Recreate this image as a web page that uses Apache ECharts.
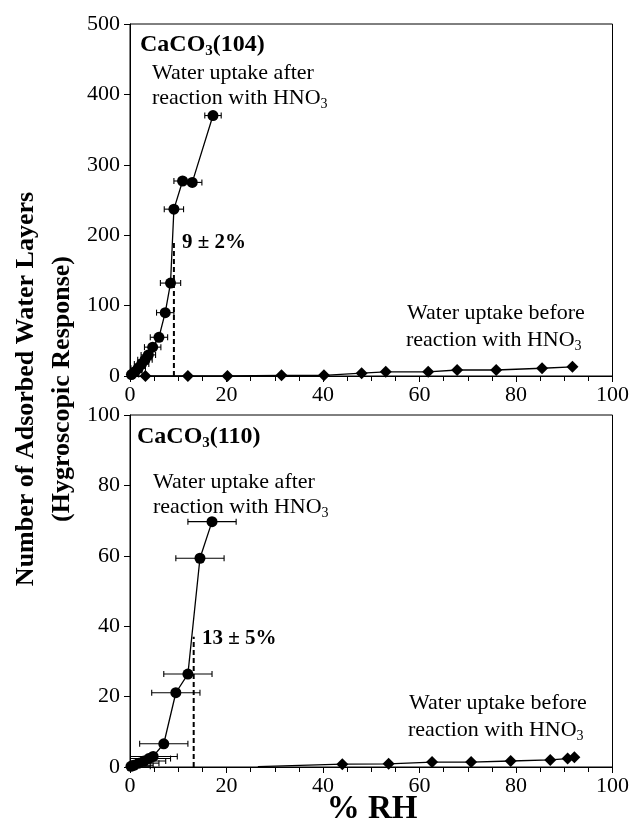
<!DOCTYPE html>
<html>
<head>
<meta charset="utf-8">
<script src="https://cdn.jsdelivr.net/npm/echarts@6/dist/echarts.min.js"></script>
<style>
  html, body { margin: 0; padding: 0; background: #fff; }
  #chart { width: 632px; height: 827px; }
</style>
</head>
<body>
<div id="chart"></div>
<script>
// CaCO3(104): after reaction with HNO3 (circles, x error bars)
const after104X = [0.3, 1.0, 1.7, 2.4, 3.1, 3.8, 4.7, 6.0, 7.3, 8.4, 9.1, 10.9, 12.9, 17.2]
const after104Y = [2, 6, 11, 17, 23, 30, 41, 55, 90, 132, 237, 277, 275, 370]
const after104Err = [1.5, 1.5, 1.5, 1.5, 1.5, 1.5, 1.7, 1.8, 1.8, 2.1, 2.0, 1.8, 2.0, 1.7]
// CaCO3(104): before reaction (diamonds)
const before104X = [3.2, 12.0, 20.2, 31.4, 40.2, 48.0, 53.0, 61.8, 67.8, 75.9, 85.4, 91.7]
const before104Y = [0, 0, 0, 1, 1, 4, 6, 6, 8.5, 8.5, 11, 13]
// DRH marker 9 +/- 2 %
const drh104 = [9.1, 190]

// CaCO3(110)
const after110X = [0.2, 0.8, 1.8, 2.9, 3.9, 4.8, 7.0, 9.5, 12.0, 14.5, 17.0]
const after110Y = [0.2, 0.5, 1.1, 1.7, 2.4, 3.0, 6.6, 21.1, 26.4, 59.3, 69.7]
const after110Err = [4.0, 4.0, 4.2, 4.5, 4.5, 5.0, 5.0, 5.0, 5.0, 5.0, 5.0]
const before110X = [26.5, 44.0, 53.6, 62.6, 70.7, 78.9, 87.1, 90.7, 92.1]
const before110Y = [0.1, 0.8, 0.9, 1.4, 1.4, 1.7, 2.0, 2.4, 2.8]
// DRH marker 13 +/- 5 %
const drh110 = [13.2, 37]

const xTicks = [0, 20, 40, 60, 80, 100]
const yTicks104 = [0, 100, 200, 300, 400, 500]
const yTicks110 = [0, 20, 40, 60, 80, 100]

const FONT = '"Liberation Serif", "Times New Roman", serif'

const zip = (xs, ys) => xs.map((x, i) => [x, ys[i]])
const zip3 = (xs, ys, es) => xs.map((x, i) => [x, ys[i], es[i]])

function errRender (params, api) {
  const x = api.value(0)
  const y = api.value(1)
  const e = api.value(2)
  const lo = Math.max(0, x - e)
  const p1 = api.coord([lo, y])
  const p2 = api.coord([x + e, y])
  const h = 3
  const st = { stroke: '#000', lineWidth: 1.1 }
  const kids = [
    { type: 'line', shape: { x1: p1[0], y1: p1[1], x2: p2[0], y2: p2[1] }, style: st },
    { type: 'line', shape: { x1: p2[0], y1: p2[1] - h, x2: p2[0], y2: p2[1] + h }, style: st }
  ]
  if (x - e >= 0) {
    kids.push({ type: 'line', shape: { x1: p1[0], y1: p1[1] - h, x2: p1[0], y2: p1[1] + h }, style: st })
  }
  return { type: 'group', children: kids }
}

function xAxisCfg (idx) {
  return {
    gridIndex: idx,
    type: 'value',
    min: xTicks[0],
    max: xTicks[xTicks.length - 1],
    interval: 20,
    axisLine: { onZero: false, lineStyle: { color: '#000', width: 1 } },
    axisTick: { length: 6, lineStyle: { color: '#000' } },
    minorTick: { show: true, splitNumber: 4, length: 5, lineStyle: { color: '#000' } },
    splitLine: { show: false },
    axisLabel: { color: '#000', fontFamily: FONT, fontSize: 22, margin: 8 }
  }
}

function yAxisCfg (idx, ticks) {
  return {
    gridIndex: idx,
    type: 'value',
    min: ticks[0],
    max: ticks[ticks.length - 1],
    interval: ticks[1] - ticks[0],
    axisLine: { show: true, lineStyle: { color: '#000', width: 1 } },
    axisTick: { show: true, length: 6, lineStyle: { color: '#000' } },
    splitLine: { show: false },
    axisLabel: { color: '#000', fontFamily: FONT, fontSize: 22, margin: 10 }
  }
}

function dataSeries (idx, xs, ys, symbol, size) {
  return {
    type: 'line',
    xAxisIndex: idx,
    yAxisIndex: idx,
    data: zip(xs, ys),
    symbol: symbol,
    symbolSize: size,
    showSymbol: true,
    itemStyle: { color: '#000' },
    lineStyle: { color: '#000', width: 1.3 },
    animation: false,
    z: 3
  }
}

function label (text, x, y, size, bold, rot) {
  return {
    type: 'text',
    x: x,
    y: y,
    rotation: rot || 0,
    style: {
      text: text,
      font: (bold ? 'bold ' : '') + size + 'px ' + FONT,
      fill: '#000',
      textAlign: rot ? 'center' : 'left',
      textVerticalAlign: 'middle',
      rich: {
        s: { fontSize: Math.round(size * 0.62), fontFamily: FONT, fontWeight: bold ? 'bold' : 'normal', padding: [Math.round(size * 0.55), 0, 0, 0] },
        n: { fontSize: size, fontFamily: FONT, fontWeight: bold ? 'bold' : 'normal' }
      }
    },
    z: 10
  }
}

const chart = echarts.init(document.getElementById('chart'))
chart.setOption({
  animation: false,
  backgroundColor: '#fff',
  grid: [
    { left: 130, right: 19, top: 24, height: 352, show: true, borderColor: '#000', borderWidth: 1 },
    { left: 130, right: 19, top: 415, height: 352, show: true, borderColor: '#000', borderWidth: 1 }
  ],
  xAxis: [xAxisCfg(0), xAxisCfg(1)],
  yAxis: [yAxisCfg(0, yTicks104), yAxisCfg(1, yTicks110)],
  series: [
    {
      type: 'custom',
      xAxisIndex: 0,
      yAxisIndex: 0,
      renderItem: errRender,
      data: zip3(after104X, after104Y, after104Err),
      encode: { x: 0, y: 1 },
      z: 2
    },
    dataSeries(0, after104X, after104Y, 'circle', 11),
    dataSeries(0, before104X, before104Y, 'diamond', 12),
    {
      type: 'line',
      xAxisIndex: 0,
      yAxisIndex: 0,
      data: [[drh104[0], 0], [drh104[0], drh104[1]]],
      symbol: 'none',
      lineStyle: { color: '#000', width: 2, type: [5, 3] },
      z: 1
    },
    {
      type: 'custom',
      xAxisIndex: 1,
      yAxisIndex: 1,
      renderItem: errRender,
      data: zip3(after110X, after110Y, after110Err),
      encode: { x: 0, y: 1 },
      z: 2
    },
    dataSeries(1, after110X, after110Y, 'circle', 11),
    Object.assign(dataSeries(1, before110X, before110Y, 'diamond', 12), {
      symbolSize: (v, p) => (p.dataIndex === 0 ? 0 : 12)
    }),
    {
      type: 'line',
      xAxisIndex: 1,
      yAxisIndex: 1,
      data: [[drh110[0], 0], [drh110[0], drh110[1]]],
      symbol: 'none',
      lineStyle: { color: '#000', width: 2, type: [5, 3] },
      z: 1
    }
  ],
  graphic: [
    // axis titles
    label('Number of Adsorbed Water Layers', 26, 389, 26, true, Math.PI / 2),
    label('(Hygroscopic Response)', 62, 389, 26, true, Math.PI / 2),
    Object.assign(label('% RH', 372, 809, 33, true), { style: Object.assign(label('% RH', 0, 0, 33, true).style, { textAlign: 'center' }) }),
    // top panel
    label('{n|CaCO}{s|3}{n|(104)}', 140, 45, 24, true),
    label('Water uptake after', 152, 73, 22, false),
    label('{n|reaction with HNO}{s|3}', 152, 98, 22, false),
    label('9 ± 2%', 182, 243, 21, true),
    label('Water uptake before', 407, 313, 22, false),
    label('{n|reaction with HNO}{s|3}', 406, 340, 22, false),
    // bottom panel
    label('{n|CaCO}{s|3}{n|(110)}', 137, 437, 24, true),
    label('Water uptake after', 153, 482, 22, false),
    label('{n|reaction with HNO}{s|3}', 153, 507, 22, false),
    label('13 ± 5%', 202, 639, 21, true),
    label('Water uptake before', 409, 703, 22, false),
    label('{n|reaction with HNO}{s|3}', 408, 730, 22, false)
  ]
})
</script>
</body>
</html>
